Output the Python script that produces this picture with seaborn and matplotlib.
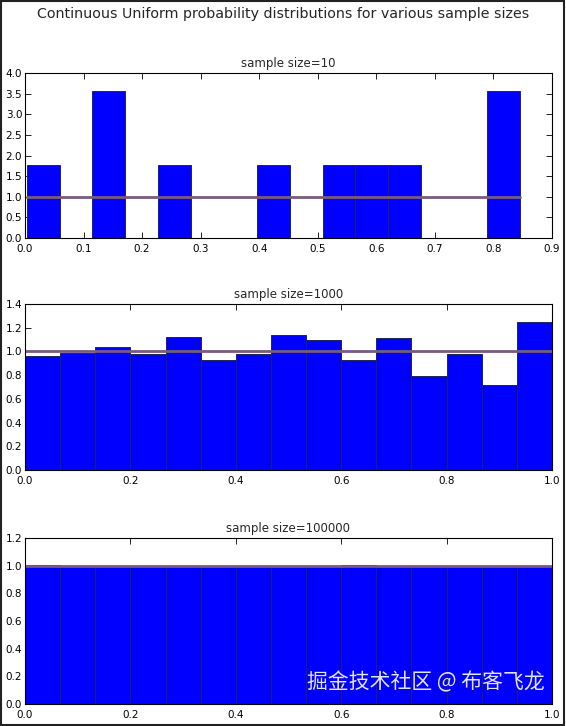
import numpy as np
import pandas as pd
import matplotlib
matplotlib.use("Agg")
import matplotlib.pyplot as plt
import seaborn as sns
from matplotlib.patches import Rectangle

sns.set_style("white")
plt.rcParams['font.family'] = ['DejaVu Sans', 'Noto Sans CJK SC']

# ---- data ----
sizes = [10, 1000, 100000]
titles = ["sample size=10", "sample size=1000", "sample size=100000"]

range_10 = (0.003, 0.845)
dens_10 = [1.78, 0.0, 3.56, 0.0, 1.78, 0.0, 0.0, 1.78, 0.0, 1.78, 1.78, 1.78, 0.0, 0.0, 3.56]

range_1000 = (0.0, 1.0)
dens_1000 = [0.96, 0.99, 1.035, 0.975, 1.125, 0.93, 0.975, 1.14, 1.095, 0.93,
             1.11, 0.795, 0.975, 0.72, 1.245]

range_100000 = (0.0, 1.0)
dens_100000 = [1.006, 0.996, 0.998, 0.997, 0.998, 0.991, 0.998, 0.991, 0.999, 1.008,
               0.998, 0.999, 0.998, 0.999, 0.998]

xticks_list = [[0.0, 0.1, 0.2, 0.3, 0.4, 0.5, 0.6, 0.7, 0.8, 0.9],
               [0.0, 0.2, 0.4, 0.6, 0.8, 1.0],
               [0.0, 0.2, 0.4, 0.6, 0.8, 1.0]]
yticks_list = [[0.0, 0.5, 1.0, 1.5, 2.0, 2.5, 3.0, 3.5, 4.0],
               [0.0, 0.2, 0.4, 0.6, 0.8, 1.0, 1.2, 1.4],
               [0.0, 0.2, 0.4, 0.6, 0.8, 1.0, 1.2]]
n_bins = 15

datasets = [(range_10, dens_10), (range_1000, dens_1000), (range_100000, dens_100000)]

fig = plt.figure(figsize=(5.66, 7.26), dpi=100)
fig.patch.set_facecolor('white')

positions = [
    [25/566, 1 - 238/726, 527/566, 165/726],
    [25/566, 1 - 470/726, 527/566, 166/726],
    [25/566, 1 - 704/726, 527/566, 166/726],
]

for i, ((rng, dens), pos) in enumerate(zip(datasets, positions)):
    ax = fig.add_axes(pos)
    edges = np.linspace(rng[0], rng[1], n_bins + 1)
    centers = (edges[:-1] + edges[1:]) / 2
    df = pd.DataFrame({"x": centers, "density": dens})
    sns.histplot(data=df, x="x", weights="density", bins=edges.tolist(), stat='count', ax=ax,
                 color='#0000ff', edgecolor='#22225a', linewidth=0.7, alpha=1.0)
    ax.plot([edges[0], edges[-1]], [1, 1], color='#7a5a7e', linewidth=2)
    ax.set_xlim(xticks_list[i][0], xticks_list[i][-1])
    ax.set_ylim(yticks_list[i][0], yticks_list[i][-1])
    ax.set_xticks(xticks_list[i])
    ax.set_yticks(yticks_list[i])
    ax.set_xticklabels([f"{t:.1f}" for t in xticks_list[i]])
    ax.set_yticklabels([f"{t:.1f}" for t in yticks_list[i]])
    ax.set_xlabel("")
    ax.set_ylabel("")
    ax.set_title(titles[i], fontsize=8.5, pad=4)
    ax.tick_params(direction='in', length=4, width=0.6, labelsize=7.5,
                   top=True, right=True, bottom=True, left=True, colors='black')
    ax.tick_params(axis='x', pad=4.5)
    ax.tick_params(axis='y', pad=2)
    for s in ax.spines.values():
        s.set_visible(True)
        s.set_color('black')
        s.set_linewidth(0.8)

fig.suptitle("Continuous Uniform probability distributions for various sample sizes",
             fontsize=10.3, y=1 - 14/726, va='center')

fig.text(545/566, 1 - 682/726, "掘金技术社区 @ 布客飞龙", ha='right', va='center',
         fontsize=15, color='#e4e4ee', family=['Noto Sans CJK SC', 'DejaVu Sans'])

fig.patches.append(Rectangle((0.002, 0.002), 0.994, 0.996, transform=fig.transFigure,
                             fill=False, edgecolor='#222222', linewidth=1.5))

fig.savefig("out.png", dpi=100, facecolor='white')
